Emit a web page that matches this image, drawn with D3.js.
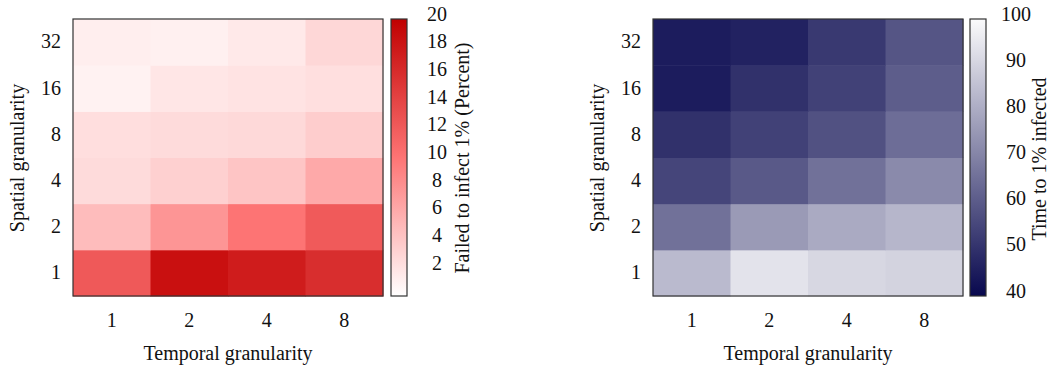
<!DOCTYPE html>
<html>
<head>
<meta charset="utf-8">
<script src="https://cdn.jsdelivr.net/npm/d3@7"></script>
<style>
  html, body { margin: 0; padding: 0; background: #fff; }
  svg { display: block; font-family: "Liberation Serif", "Times New Roman", serif; }
</style>
</head>
<body>
<svg id="chart" width="1061" height="368"></svg>
<script>
// Granularity levels
const temporal = ["1", "2", "4", "8"];
const spatial = ["1", "2", "4", "8", "16", "32"];

// Percent of runs that failed to infect 1% (rows follow `spatial`, columns follow `temporal`)
const failedPct = [
  [12.3, 18.6, 17.6, 16.0], // spatial 1
  [4.8, 7.6, 10.0, 12.2],   // spatial 2
  [2.6, 3.4, 4.2, 6.2],     // spatial 4
  [2.4, 2.6, 2.7, 3.6],     // spatial 8
  [0.9, 1.8, 2.0, 2.3],     // spatial 16
  [1.2, 1.1, 1.6, 2.9]      // spatial 32
];

// Time to reach 1% infected
const timeTo1 = [
  [84, 94, 91, 90],  // spatial 1
  [66, 76, 80, 83],  // spatial 2
  [55, 60, 66, 72],  // spatial 4
  [50, 54, 58, 65],  // spatial 8
  [45, 50, 54, 61],  // spatial 16
  [45, 46.5, 52, 59] // spatial 32
];

const failedTicks = [2, 4, 6, 8, 10, 12, 14, 16, 18, 20];
const timeTicks = [40, 50, 60, 70, 80, 90, 100];

const svg = d3.select("#chart");
const FS = 20;
const plotTop = 19, plotBottom = 296;

function panel(opts) {
  const g = svg.append("g");
  const x = d3.scaleBand().domain(temporal).range([opts.x0, opts.x1]).padding(0);
  const y = d3.scaleBand().domain(spatial).range([plotBottom, plotTop]).padding(0);

  const cells = [];
  spatial.forEach((s, i) => temporal.forEach((t, j) => cells.push({ s, t, v: opts.values[i][j] })));

  g.selectAll("rect.cell").data(cells).join("rect")
    .attr("class", "cell")
    .attr("x", d => x(d.t))
    .attr("y", d => y(d.s))
    .attr("width", x.bandwidth() + 0.5)
    .attr("height", y.bandwidth() + 0.5)
    .attr("fill", d => opts.color(d.v));

  g.append("rect")
    .attr("x", opts.x0).attr("y", plotTop)
    .attr("width", opts.x1 - opts.x0).attr("height", plotBottom - plotTop)
    .attr("fill", "none").attr("stroke", "#333").attr("stroke-width", 1.2);

  // x axis
  const xa = g.append("g").attr("transform", `translate(0,${plotBottom})`)
    .call(d3.axisBottom(x).tickSize(0).tickPadding(17));
  xa.select(".domain").remove();
  xa.selectAll("text").attr("font-size", FS).attr("fill", "#111")
    .attr("font-family", "Liberation Serif, serif");

  // y axis
  const ya = g.append("g").attr("transform", `translate(${opts.x0},0)`)
    .call(d3.axisLeft(y).tickSize(0).tickPadding(12));
  ya.select(".domain").remove();
  ya.selectAll("text").attr("font-size", FS).attr("fill", "#111")
    .attr("font-family", "Liberation Serif, serif");

  g.append("text")
    .attr("x", (opts.x0 + opts.x1) / 2).attr("y", 360)
    .attr("text-anchor", "middle").attr("font-size", FS).attr("fill", "#111")
    .text("Temporal granularity");

  g.append("text")
    .attr("transform", `translate(${opts.ylabX},158) rotate(-90)`)
    .attr("text-anchor", "middle").attr("font-size", FS).attr("fill", "#111")
    .text("Spatial granularity");

  // colour bar
  const gradId = opts.id + "-grad";
  const grad = svg.append("defs").append("linearGradient")
    .attr("id", gradId).attr("x1", 0).attr("y1", 1).attr("x2", 0).attr("y2", 0);
  const [d0, d1] = opts.domain;
  d3.range(0, 1.0001, 0.05).forEach(t => {
    grad.append("stop").attr("offset", t).attr("stop-color", opts.color(d0 + t * (d1 - d0)));
  });
  const cbW = 16;
  g.append("rect")
    .attr("x", opts.cbX).attr("y", plotTop).attr("width", cbW).attr("height", plotBottom - plotTop)
    .attr("fill", `url(#${gradId})`).attr("stroke", "#333").attr("stroke-width", 1.2);

  const cs = d3.scaleLinear().domain(opts.domain).range([plotBottom, plotTop]);
  const ca = g.append("g").attr("transform", `translate(${opts.cbLabX},0)`)
    .call(d3.axisRight(cs).tickValues(opts.ticks).tickSize(0).tickPadding(0));
  ca.select(".domain").remove();
  ca.selectAll("text").attr("font-size", FS).attr("fill", "#111")
    .attr("text-anchor", "middle").attr("dy", "0.05em")
    .attr("font-family", "Liberation Serif, serif");

  g.append("text")
    .attr("transform", `translate(${opts.cbTitleX},${opts.cbTitleY}) rotate(-90)`)
    .attr("text-anchor", "middle").attr("font-size", FS).attr("fill", "#111")
    .text(opts.title);
}

const redScale = d3.scaleLinear()
  .domain([0, 10, 20])
  .range(["#ffffff", "#fd7474", "#c00000"])
  .interpolate(d3.interpolateRgb).clamp(true);

const blueScale = d3.scaleLinear()
  .domain([40, 100])
  .range(["#08084e", "#fbfbfc"])
  .interpolate(d3.interpolateRgb).clamp(true);

panel({
  id: "failed", x0: 73, x1: 383, values: failedPct, color: redScale,
  domain: [0, 20], ticks: failedTicks, cbX: 391, cbLabX: 437,
  cbTitleX: 469, cbTitleY: 158, ylabX: 24,
  title: "Failed to infect 1% (Percent)"
});

panel({
  id: "time", x0: 653, x1: 963, values: timeTo1, color: blueScale,
  domain: [40, 100], ticks: timeTicks, cbX: 970, cbLabX: 1016,
  cbTitleX: 1046, cbTitleY: 159, ylabX: 604,
  title: "Time to 1% infected"
});
</script>
</body>
</html>
